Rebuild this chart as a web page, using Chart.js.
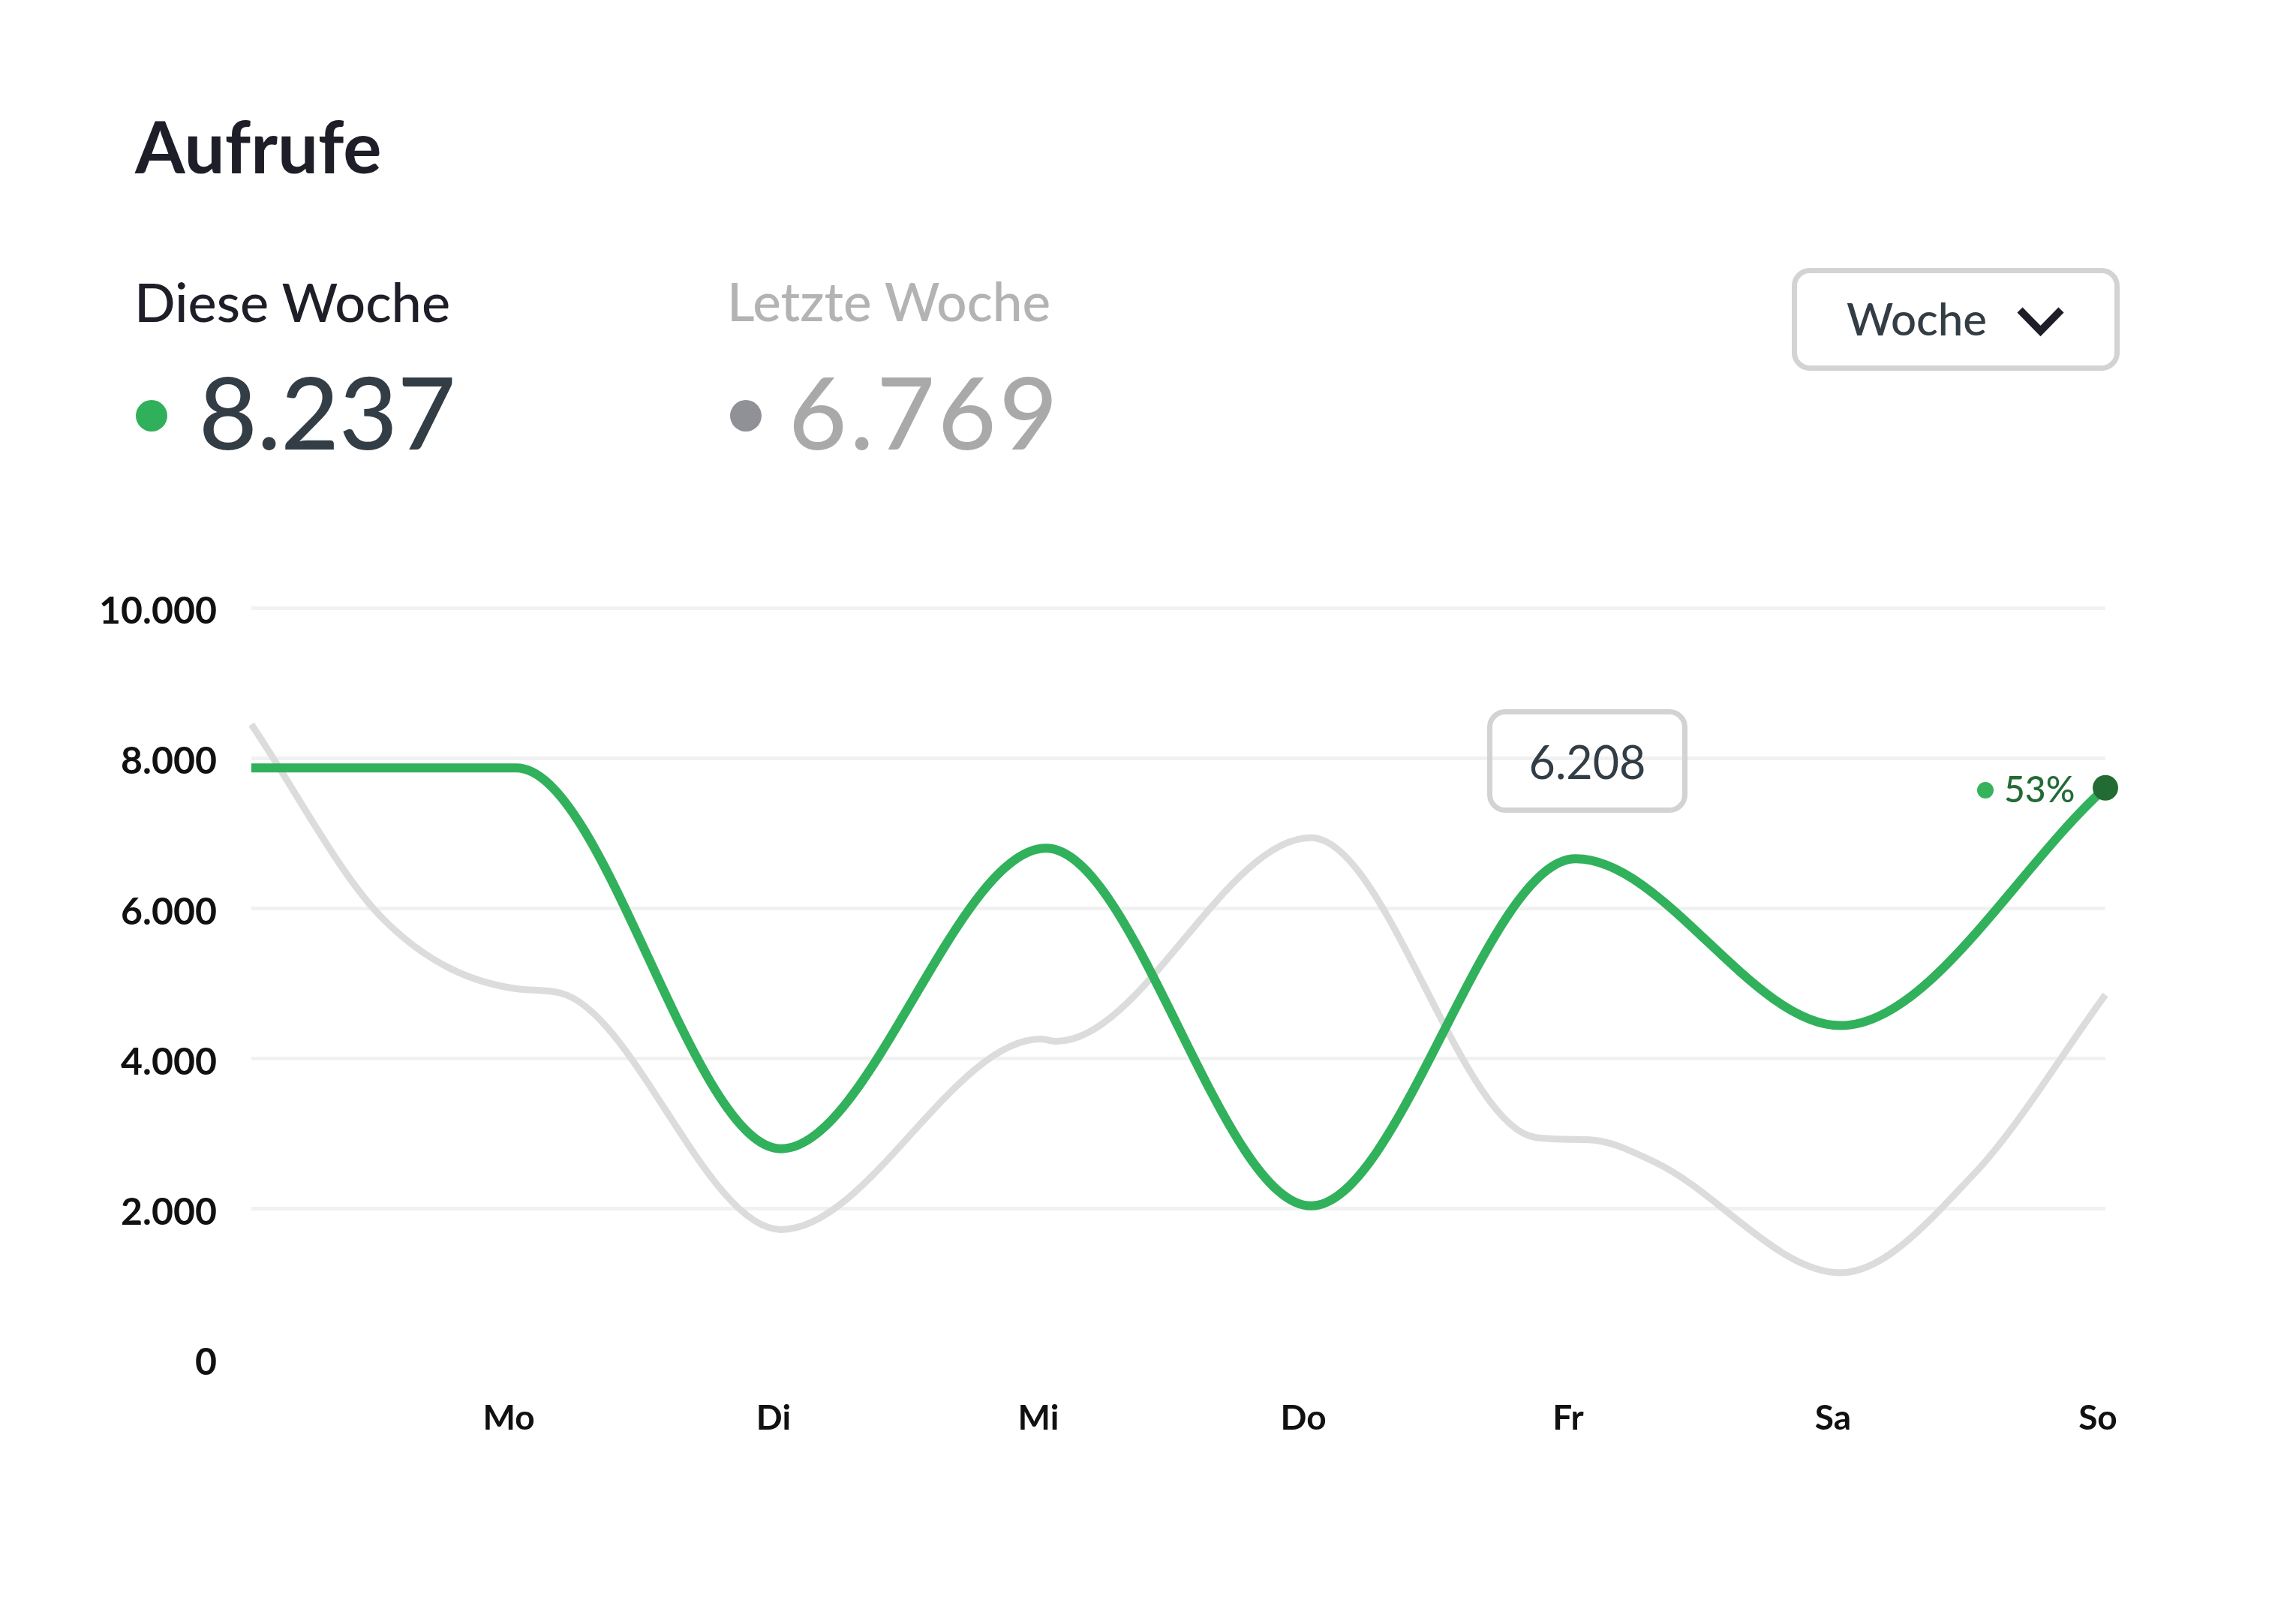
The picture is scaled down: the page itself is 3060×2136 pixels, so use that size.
<!DOCTYPE html>
<html>
<head>
<meta charset="utf-8">
<script src="https://cdn.jsdelivr.net/npm/chart.js@4.4.1/dist/chart.umd.min.js"></script>
<style>
  html, body { margin: 0; padding: 0; background: #ffffff; }
  body { width: 3060px; height: 2136px; position: relative; overflow: hidden; font-family: Lato, "Noto Sans", sans-serif; }
  #chart { position: absolute; left: 0; top: 0; }
  .abs { position: absolute; white-space: nowrap; line-height: 1.2; z-index: 2; }
  #title { left: 180px; top: 136px; font-size: 96px; font-weight: 700; color: #1e1e28; }
  #lblThis { left: 179px; top: 358px; font-size: 72px; font-weight: 500; color: #1e1e28; }
  #lblLast { left: 969px; top: 358px; font-size: 71px; font-weight: 500; color: #b3b3b3; }
  #valThis { left: 265px; top: 468px; font-size: 134px; font-weight: 500; color: #333d45; }
  #valLast { left: 1051px; top: 468px; font-size: 134px; font-weight: 500; color: #a9a9a9; letter-spacing: 4px; }
  .dot { position: absolute; border-radius: 50%; z-index: 2; }
  #dotThis { left: 181px; top: 533px; width: 42px; height: 42px; background: #30b05a; }
  #dotLast { left: 973px; top: 533px; width: 42px; height: 42px; background: #909196; }
  #dropdown { position: absolute; left: 2388px; top: 357px; width: 437px; height: 137px; box-sizing: border-box;
              border: 7px solid #d3d3d3; border-radius: 24px; z-index: 2; }
  #ddText { left: 2461px; top: 388px; font-size: 60px; font-weight: 500; color: #333d45; }
  #chev { position: absolute; left: 2680px; top: 400px; z-index: 2; }
  #valueBox { position: absolute; left: 1982px; top: 945px; width: 267px; height: 138px; box-sizing: border-box;
              border: 7px solid #d3d3d3; border-radius: 24px; z-index: 2;
              display: flex; align-items: center; justify-content: center;
              font-size: 61px; font-weight: 400; color: #333d45; line-height: 1; }
  #pctDot { left: 2635px; top: 1042px; width: 22px; height: 22px; background: #34b35a; }
  #pct { left: 2671px; top: 1022px; font-size: 48px; font-weight: 500; color: #236b35; }
</style>
</head>
<body>
<div id="title" class="abs">Aufrufe</div>
<div id="lblThis" class="abs">Diese Woche</div>
<div id="lblLast" class="abs">Letzte Woche</div>
<div id="dotThis" class="dot"></div>
<div id="valThis" class="abs">8.237</div>
<div id="dotLast" class="dot"></div>
<div id="valLast" class="abs">6.769</div>
<div id="dropdown"></div>
<div id="ddText" class="abs">Woche</div>
<svg id="chev" width="80" height="60"><polyline points="12,13 39.5,41 67,13" fill="none" stroke="#1e1e28" stroke-width="10"/></svg>
<div id="valueBox">6.208</div>
<div id="pctDot" class="dot"></div>
<div id="pct" class="abs">53%</div>
<canvas id="chart" width="3060" height="2136"></canvas>
<script>
// ---- data ----
const dayLabels = ['', 'Mo', 'Di', 'Mi', 'Do', 'Fr', 'Sa', 'So'];
const thisWeekPos = [0, 1, 2, 3, 4, 5, 6, 7];
const thisWeekValues = [7870, 7870, 2800, 6800, 2040, 6660, 4440, 7605];
const lastWeekPos = [0, 0.5, 1.0, 1.17, 2.0, 2.98, 3.04, 4.0, 4.85, 5.05, 5.30, 6.0, 6.5, 7.0];
const lastWeekValues = [8450, 5850, 4930, 4870, 1724, 4260, 4230, 6940, 2950, 2920, 2620, 1150, 2450, 4850];
const yTicks = [0, 2000, 4000, 6000, 8000, 10000];

const GREEN = '#31b15b';
const GRAY = '#dcdcdc';
const fmt = v => String(v).replace(/\B(?=(\d{3})+(?!\d))/g, '.');

new Chart(document.getElementById('chart'), {
  type: 'line',
  data: {
    datasets: [
      {
        label: 'Diese Woche',
        data: thisWeekPos.map((x, i) => ({ x, y: thisWeekValues[i] })),
        borderColor: GREEN,
        borderWidth: 12,
        cubicInterpolationMode: 'monotone',
        pointRadius: c => (c.dataIndex === thisWeekValues.length - 1 ? 17 : 0),
        pointBackgroundColor: '#236b35',
        pointBorderWidth: 0,
        fill: false,
        clip: false,
        order: 0
      },
      {
        label: 'Letzte Woche',
        data: lastWeekPos.map((x, i) => ({ x, y: lastWeekValues[i] })),
        borderColor: GRAY,
        borderWidth: 9,
        cubicInterpolationMode: 'monotone',
        pointRadius: 0,
        fill: false,
        clip: false,
        order: 1
      }
    ]
  },
  options: {
    responsive: false,
    animation: false,
    events: [],
    layout: { padding: { left: 0, top: 810, right: 254, bottom: 0 } },
    plugins: { legend: { display: false }, tooltip: { enabled: false } },
    scales: {
      x: {
        type: 'linear',
        min: 0,
        max: 7,
        grid: { display: false },
        border: { display: false },
        afterBuildTicks: s => { s.ticks = dayLabels.map((_, i) => ({ value: i })); },
        ticks: {
          callback: v => dayLabels[v] ?? '',
          font: { family: 'Lato', size: 46, weight: '700' },
          color: '#111111',
          padding: 44,
          labelOffset: -10,
          maxRotation: 0,
          autoSkip: false
        },
        afterFit: s => { s.height = 325; }
      },
      y: {
        min: 0,
        max: 10000,
        afterBuildTicks: s => { s.ticks = yTicks.map(v => ({ value: v })); },
        grid: {
          color: c => (c.tick && c.tick.value === 0 ? 'rgba(0,0,0,0)' : '#f1f1f1'),
          lineWidth: 5,
          drawTicks: false
        },
        border: { display: false },
        ticks: {
          callback: v => fmt(v),
          font: { family: 'Lato', size: 50, weight: '700' },
          color: '#111111',
          padding: 46,
          labelOffset: 5
        },
        afterFit: s => { s.width = 335; }
      }
    }
  }
});
</script>
</body>
</html>
